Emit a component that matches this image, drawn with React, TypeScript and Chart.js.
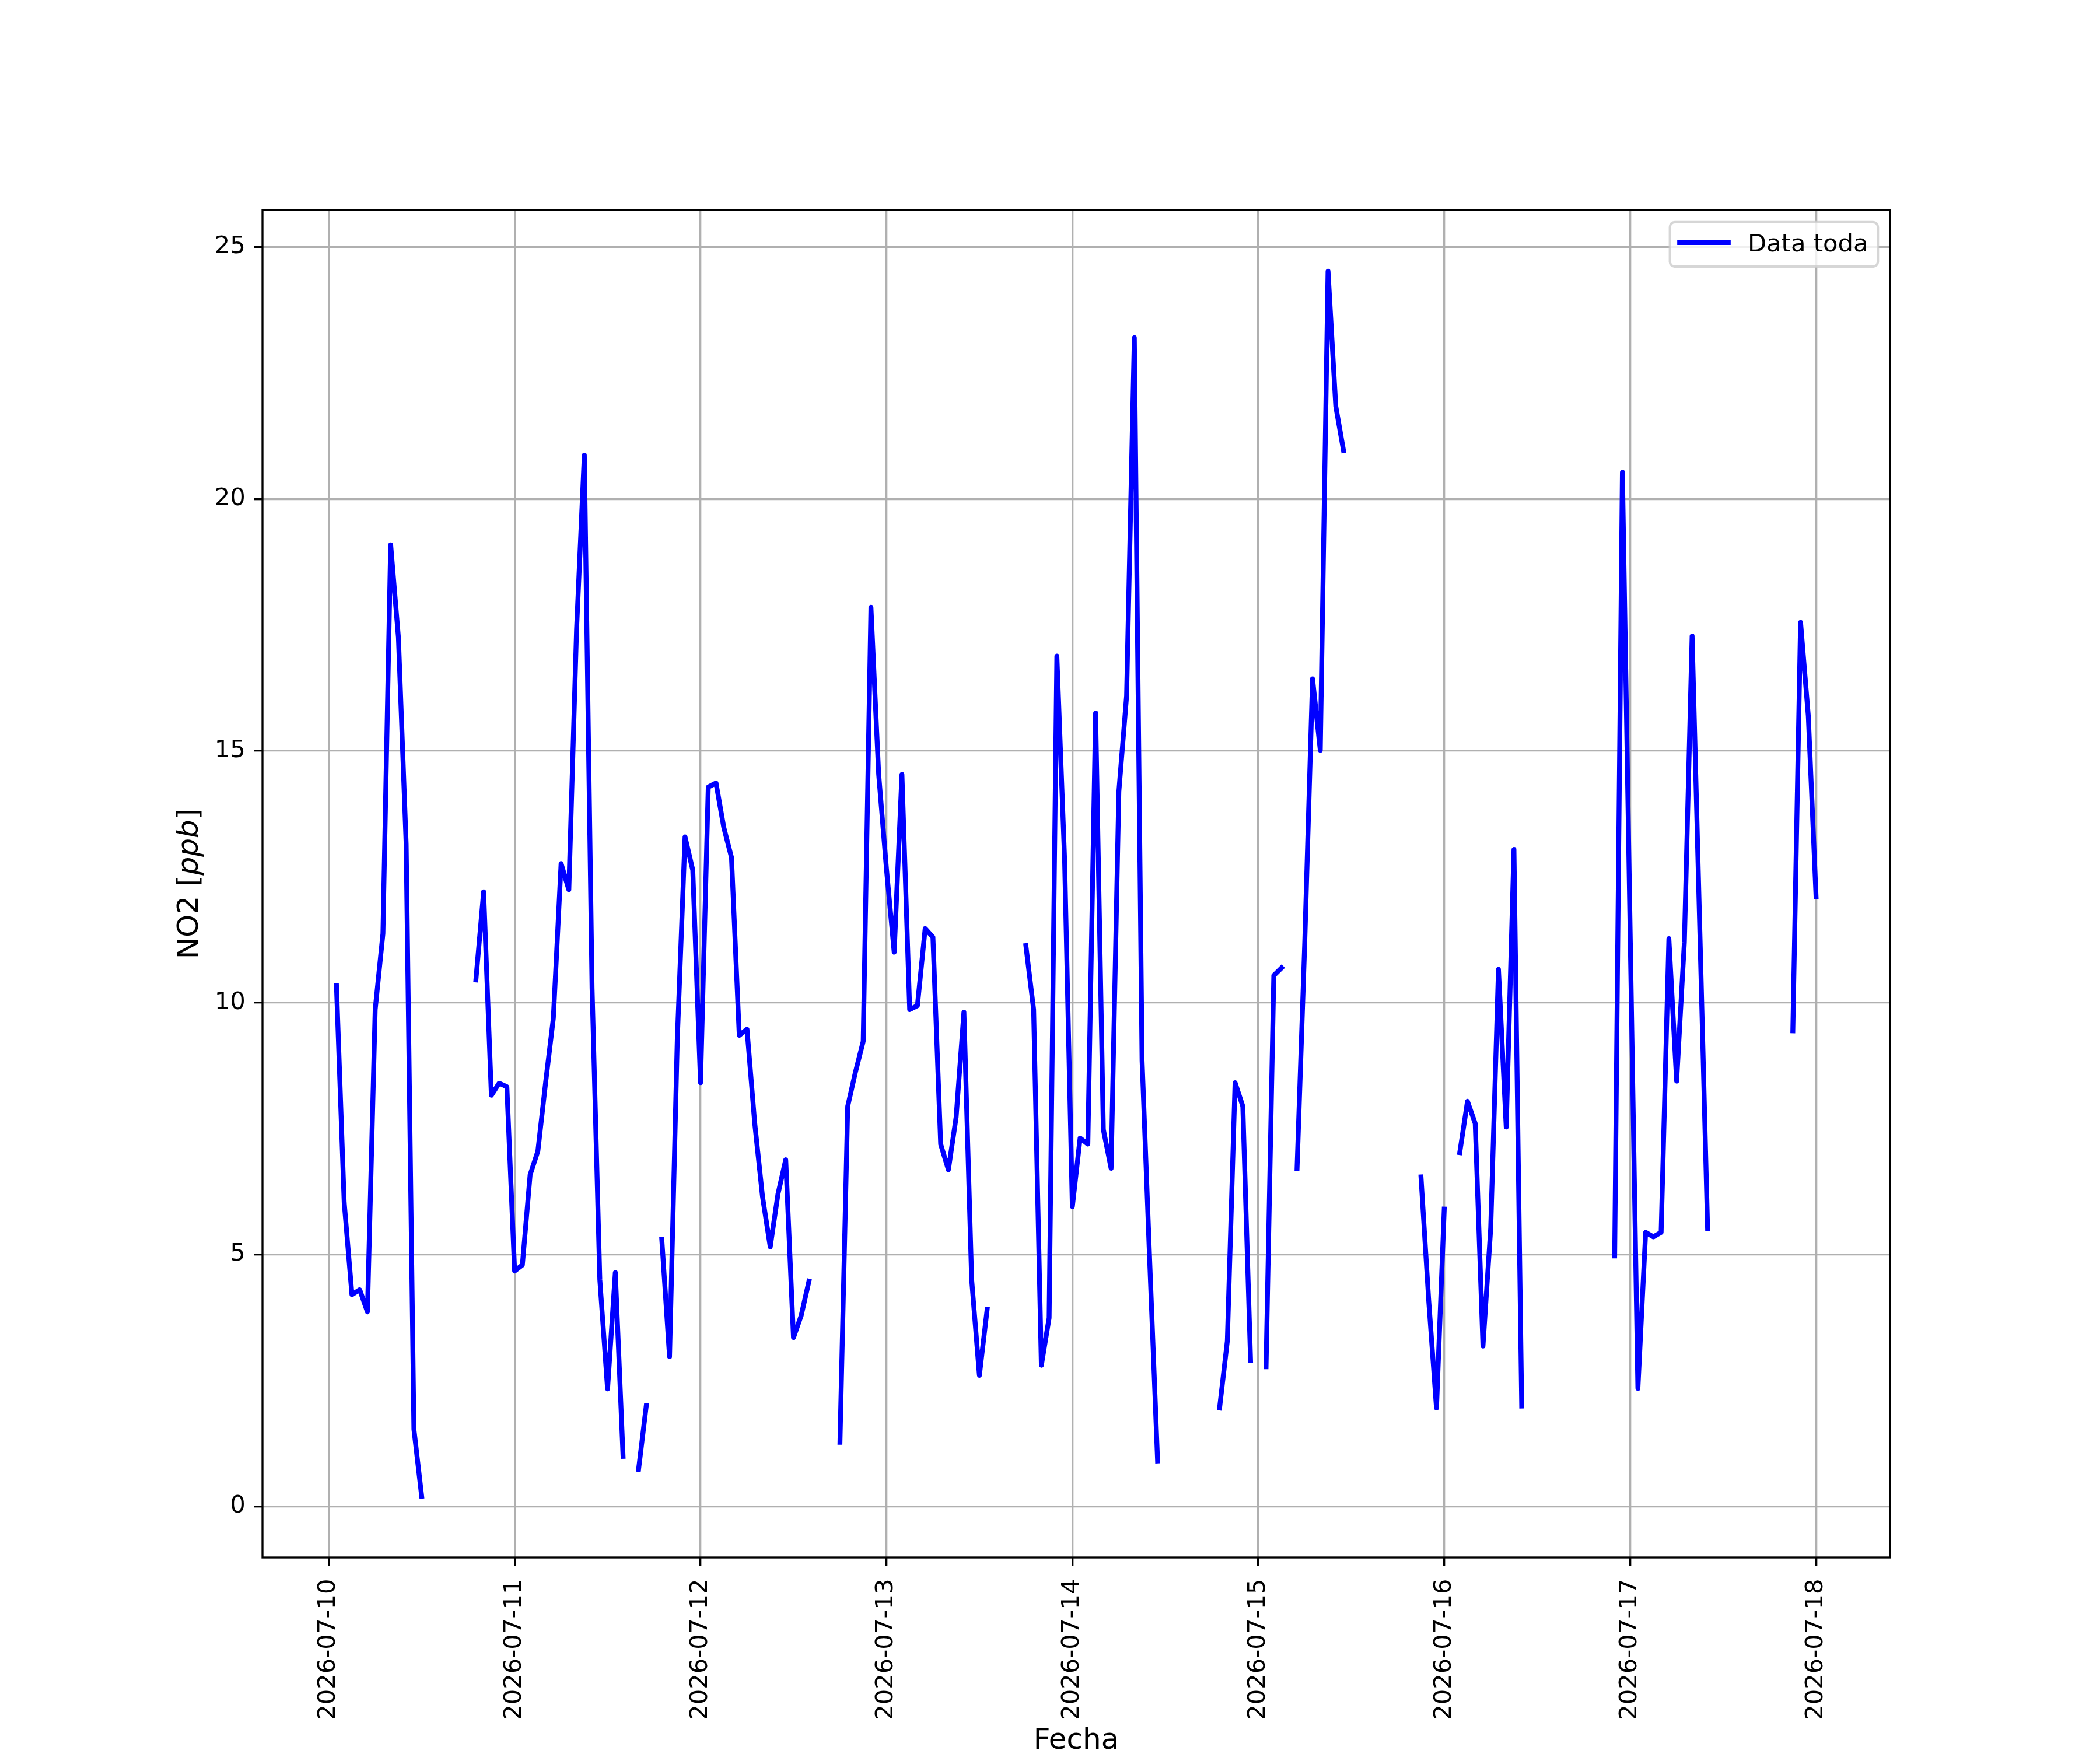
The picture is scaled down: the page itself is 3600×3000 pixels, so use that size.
import { useEffect, useRef } from "react";
import { Chart, registerables } from "chart.js";

Chart.register(...registerables);

// hourly NO2 readings, one array per day (null = no data)
const DAY_LABELS = [
  "2026-07-10", "2026-07-11", "2026-07-12", "2026-07-13", "2026-07-14",
  "2026-07-15", "2026-07-16", "2026-07-17", "2026-07-18",
];
const DAY_0710 = [null, 10.34, 6.03, 4.2, 4.3, 3.86, 9.86, 11.37, 19.09, 17.25, 13.14, 1.53, 0.2, null, null, null, null, null, null, 10.45, 12.2, 8.16, 8.4, 8.33];
const DAY_0711 = [4.67, 4.79, 6.58, 7.05, 8.41, 9.69, 12.76, 12.24, 17.42, 20.87, 10.28, 4.5, 2.33, 4.64, 0.99, null, 0.73, 2.0, null, 5.3, 2.97, 9.26, 13.29, 12.63];
const DAY_0712 = [8.41, 14.28, 14.36, 13.48, 12.88, 9.35, 9.47, 7.6, 6.15, 5.15, 6.2, 6.88, 3.35, 3.79, 4.47, null, null, null, 1.27, 7.94, 8.62, 9.23, 17.85, 14.53];
const DAY_0713 = [12.66, 11.0, 14.53, 9.86, 9.94, 11.47, 11.3, 7.19, 6.68, 7.73, 9.81, 4.5, 2.6, 3.91, null, null, null, null, 11.13, 9.86, 2.8, 3.74, 16.88, 12.83];
const DAY_0714 = [5.95, 7.31, 7.19, 15.75, 7.48, 6.71, 14.19, 16.09, 23.2, 8.84, 4.8, 0.9, null, null, null, null, null, null, null, 1.95, 3.28, 8.41, 7.94, 2.89];
const DAY_0715 = [null, 2.77, 10.54, 10.69, null, 6.71, 11.22, 16.43, 15.01, 24.52, 21.84, 20.96, null, null, null, null, null, null, null, null, null, 6.54, 4.08, 1.95];
const DAY_0716 = [5.9, null, 7.02, 8.04, 7.6, 3.18, 5.52, 10.66, 7.53, 13.04, 1.99, null, null, null, null, null, null, null, null, null, null, null, 4.97, 20.53];
const DAY_0717 = [11.4, 2.34, 5.44, 5.35, 5.44, 11.27, 8.44, 11.2, 17.28, 11.4, 5.51, null, null, null, null, null, null, null, null, null, null, 9.44, 17.55, 15.69];
const DAY_0718 = [12.1];

const HOURLY: (number | null)[] = [
  ...DAY_0710, ...DAY_0711, ...DAY_0712, ...DAY_0713, ...DAY_0714,
  ...DAY_0715, ...DAY_0716, ...DAY_0717, ...DAY_0718,
];
const Y_TICKS = [0, 5, 10, 15, 20, 25];
const SERIES_LABEL = "Data toda";

const PT = 300 / 72;
const FS = 10 * PT;
const LABEL_FS = 12 * PT;
const FONT = "'DejaVu Sans'";

const mplDecor = {
  id: "mplDecor",
  afterDatasetsDraw(chart: any) {
    const { ctx, chartArea: a } = chart;
    ctx.save();

    // spines
    ctx.strokeStyle = "#000";
    ctx.lineWidth = 0.8 * PT;
    ctx.strokeRect(a.left, a.top, a.right - a.left, a.bottom - a.top);

    // legend (upper right)
    ctx.font = `${FS}px ${FONT}`;
    const tw = ctx.measureText(SERIES_LABEL).width;
    const bw = 3.6 * FS + tw;
    const bh = 1.83 * FS;
    const bx = a.right - 0.5 * FS - bw;
    const by = a.top + 0.5 * FS;
    ctx.beginPath();
    ctx.roundRect(bx, by, bw, bh, 0.2 * FS);
    ctx.fillStyle = "rgba(255,255,255,0.8)";
    ctx.fill();
    ctx.strokeStyle = "rgba(204,204,204,0.8)";
    ctx.lineWidth = 1 * PT;
    ctx.stroke();
    const ly = by + 0.84 * FS;
    ctx.beginPath();
    ctx.moveTo(bx + 0.4 * FS, ly);
    ctx.lineTo(bx + 2.4 * FS, ly);
    ctx.strokeStyle = "#0000ff";
    ctx.lineWidth = 2 * PT;
    ctx.lineCap = "square";
    ctx.stroke();
    ctx.fillStyle = "#000";
    ctx.textBaseline = "alphabetic";
    ctx.textAlign = "left";
    ctx.fillText(SERIES_LABEL, bx + 3.2 * FS, by + 1.2 * FS);

    // axis labels
    ctx.font = `${LABEL_FS}px ${FONT}`;
    ctx.textAlign = "center";
    ctx.fillText("Fecha", (a.left + a.right) / 2, 2998);

    const partA = "NO2 [";
    const partB = "ppb";
    const partC = "]";
    ctx.font = `${LABEL_FS}px ${FONT}`;
    const wa = ctx.measureText(partA).width;
    const wc = ctx.measureText(partC).width;
    ctx.font = `italic ${LABEL_FS}px ${FONT}`;
    const wb = ctx.measureText(partB).width;
    const total = wa + wb + wc;
    ctx.translate(338.5, (a.top + a.bottom) / 2);
    ctx.rotate(-Math.PI / 2);
    ctx.textAlign = "left";
    let x = -total / 2;
    ctx.font = `${LABEL_FS}px ${FONT}`;
    ctx.fillText(partA, x, 0);
    x += wa;
    ctx.font = `italic ${LABEL_FS}px ${FONT}`;
    ctx.fillText(partB, x, 0);
    x += wb;
    ctx.font = `${LABEL_FS}px ${FONT}`;
    ctx.fillText(partC, x, 0);

    ctx.restore();
  },
};

export default function App() {
  const canvasRef = useRef<HTMLCanvasElement>(null);
  const chartRef = useRef<Chart | null>(null);

  useEffect(() => {
    if (!canvasRef.current) return;
    document.body.style.margin = "0";
    if (chartRef.current) chartRef.current.destroy();

    const points = HOURLY.map((v, i) => ({ x: i, y: v }));
    const xs = points.filter(p => p.y !== null).map(p => p.x);
    const ys = points.filter(p => p.y !== null).map(p => p.y as number);
    const xMin = Math.min(...xs), xMax = Math.max(...xs);
    const yMin = Math.min(...ys), yMax = Math.max(...ys);
    const xPad = (xMax - xMin) * 0.05;
    const yPad = (yMax - yMin) * 0.05;

    chartRef.current = new Chart(canvasRef.current, {
      type: "line",
      data: {
        datasets: [{
          label: SERIES_LABEL,
          data: points as any,
          borderColor: "#0000ff",
          borderWidth: 2 * PT,
          borderJoinStyle: "round",
          borderCapStyle: "square",
          pointRadius: 0,
          tension: 0,
          spanGaps: false,
        }],
      },
      options: {
        responsive: false,
        animation: false,
        devicePixelRatio: 1,
        layout: { padding: { top: 360, right: 360, left: 0, bottom: 0 } },
        scales: {
          x: {
            type: "linear",
            min: xMin - xPad,
            max: xMax + xPad,
            afterBuildTicks: (s: any) => {
              s.ticks = DAY_LABELS.map((_, i) => ({ value: i * 24 }));
            },
            afterFit: (s: any) => { s.height = 330; },
            grid: {
              color: "#b0b0b0",
              lineWidth: 0.8 * PT,
              tickColor: "#000",
              tickWidth: 0.8 * PT,
              tickLength: 3.5 * PT,
            },
            border: { display: false },
            ticks: {
              autoSkip: false,
              minRotation: 90,
              maxRotation: 90,
              padding: 22,
              color: "#000",
              font: { family: "DejaVu Sans", size: FS },
              callback: (v: any) => DAY_LABELS[Math.round(Number(v) / 24)] ?? "",
            },
          },
          y: {
            type: "linear",
            min: yMin - yPad,
            max: yMax + yPad,
            afterBuildTicks: (s: any) => {
              s.ticks = Y_TICKS.map(v => ({ value: v }));
            },
            afterFit: (s: any) => { s.width = 450; },
            grid: {
              color: "#b0b0b0",
              lineWidth: 0.8 * PT,
              tickColor: "#000",
              tickWidth: 0.8 * PT,
              tickLength: 3.5 * PT,
            },
            border: { display: false },
            ticks: {
              padding: 3.5 * PT,
              color: "#000",
              font: { family: "DejaVu Sans", size: FS },
              callback: (v: any) => String(v),
            },
          },
        },
        plugins: {
          legend: { display: false },
          tooltip: { enabled: false },
        },
      },
      plugins: [mplDecor],
    });

    return () => { chartRef.current?.destroy(); };
  }, []);

  return (
    <div style={{ width: 3600, height: 3000, background: "#fff" }}>
      <canvas ref={canvasRef} width={3600} height={3000} style={{ display: "block" }} />
    </div>
  );
}
